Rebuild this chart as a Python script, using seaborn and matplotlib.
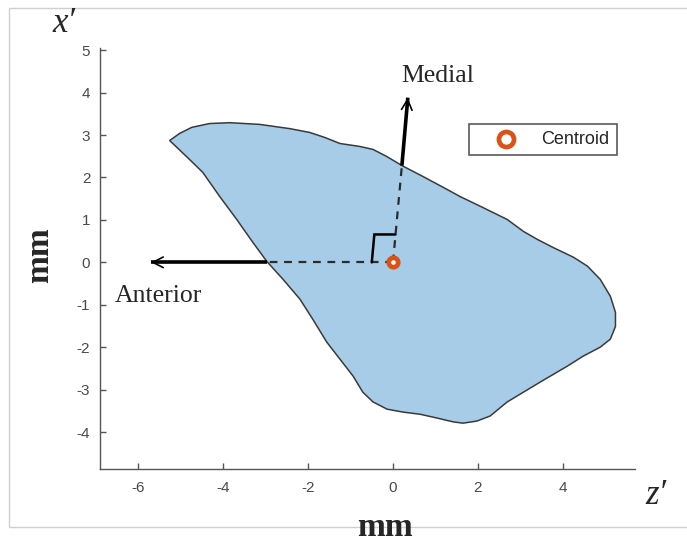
import matplotlib
matplotlib.use("Agg")
import matplotlib.pyplot as plt
from matplotlib.patches import Rectangle
import numpy as np
import seaborn as sns

# Cross-section outline in the (z', x') plane, mm, traced clockwise
outline_z = [-5.26, -5.02, -4.74, -4.32, -3.84, -3.14, -2.43, -1.96, -1.60, -1.25,
             -0.78, -0.47, -0.14, 0.21, 0.71, 1.27, 1.58, 2.12, 2.69, 3.07,
             3.40, 3.77, 4.25, 4.58, 4.88, 5.12, 5.24, 5.24, 5.12, 4.88,
             4.48, 4.10, 3.47, 2.69, 2.29, 1.98, 1.65, 1.42, 1.04, 0.64,
             0.24, -0.14, -0.47, -0.71, -0.94, -1.25, -1.56, -1.89, -2.19, -2.59,
             -2.97, -3.30, -3.68, -4.08, -4.48, -4.86]
outline_x = [2.87, 3.04, 3.18, 3.27, 3.29, 3.25, 3.15, 3.06, 2.94, 2.80,
             2.73, 2.66, 2.49, 2.28, 2.02, 1.72, 1.55, 1.29, 1.01, 0.73,
             0.54, 0.35, 0.12, -0.09, -0.40, -0.80, -1.18, -1.51, -1.81, -2.00,
             -2.21, -2.45, -2.82, -3.29, -3.62, -3.74, -3.79, -3.76, -3.67, -3.58,
             -3.53, -3.46, -3.29, -3.06, -2.68, -2.28, -1.88, -1.34, -0.87, -0.40,
             0.02, 0.47, 1.01, 1.55, 2.12, 2.49]

centroid_z = [0.0]
centroid_x = [0.0]

# Anatomical axes through the centroid: where each meets the outline, and arrow tips
anterior_edge = (-2.97, 0.0)
anterior_tip = (-5.70, 0.0)
medial_edge = (0.21, 2.28)
medial_tip = (0.35, 3.88)
right_angle = 0.64  # size of the right-angle marker, mm

x_ticks = [-6, -4, -2, 0, 2, 4]
y_ticks = [-4, -3, -2, -1, 0, 1, 2, 3, 4, 5]

fill_color = "#a7cce8"
edge_color = "#3a3a3a"
centroid_color = "#d95319"

sns.set_style("ticks")
plt.rcParams["font.family"] = ["Liberation Sans", "DejaVu Sans"]

W, H = 687, 548
fig = plt.figure(figsize=(W / 100, H / 100), dpi=100)
ax = fig.add_axes([100 / W, 1 - 469 / H, 535 / W, 421 / H])

ax.fill(outline_z, outline_x, facecolor=fill_color, edgecolor=edge_color,
        linewidth=1.1, zorder=1)

# dashed guide lines from the centroid to the outline
ax.plot([centroid_z[0], anterior_edge[0]], [centroid_x[0], anterior_edge[1]],
        ls=(0, (3.5, 3)), color="#2b2b2b", lw=1.6, zorder=2)
ax.plot([centroid_z[0], medial_edge[0]], [centroid_x[0], medial_edge[1]],
        ls=(0, (3.5, 3)), color="#2b2b2b", lw=1.6, zorder=2)


def direction_arrow(start, tip):
    """Thick shaft from the outline to the tip, finished with a thin open head."""
    start = np.asarray(start)
    tip = np.asarray(tip)
    ax.plot([start[0], tip[0]], [start[1], tip[1]], color="black", lw=2.6,
            solid_capstyle="butt", zorder=3)
    back = tip + (start - tip) / np.hypot(*(start - tip)) * 0.4
    ax.annotate("", xy=tuple(tip), xytext=tuple(back), zorder=3,
                arrowprops=dict(arrowstyle="->,head_length=0.75,head_width=0.38",
                                color="black", lw=1.2, shrinkA=0, shrinkB=0))


direction_arrow(anterior_edge, anterior_tip)
direction_arrow(medial_edge, medial_tip)

# right-angle marker at the centroid
mdir = np.array(medial_edge) / np.hypot(*medial_edge)
p0 = np.array([centroid_z[0] - right_angle * 0.78, centroid_x[0]])
p1 = p0 + mdir * right_angle * 1.03
p2 = np.array([centroid_z[0], centroid_x[0]]) + mdir * right_angle * 1.03
ax.plot([p0[0], p1[0], p2[0]], [p0[1], p1[1], p2[1]], color="black", lw=1.8,
        solid_joinstyle="miter", zorder=3)

sns.scatterplot(x=centroid_z, y=centroid_x, ax=ax, s=46, color="white",
                edgecolor=centroid_color, linewidth=3.4, label="Centroid", zorder=4)

ax.text(1.06, 4.38, "Medial", family="Liberation Serif", fontsize=18.5,
        ha="center", va="center")
ax.text(-5.52, -0.80, "Anterior", family="Liberation Serif", fontsize=18.5,
        ha="center", va="center")

ax.set_xlim(-6.9, 5.7)
ax.set_ylim(-4.87, 5.05)
ax.set_xticks(x_ticks)
ax.set_yticks(y_ticks)
ax.set_xticklabels([str(t) for t in x_ticks])
ax.set_yticklabels([str(t) for t in y_ticks])
ax.tick_params(direction="in", length=4, width=1, color="#555555",
               labelcolor="#4a4a4a", labelsize=11)
ax.tick_params(axis="x", pad=9)
ax.tick_params(axis="y", pad=7)
for side in ("top", "right"):
    ax.spines[side].set_visible(False)
for side in ("left", "bottom"):
    ax.spines[side].set_color("#555555")
    ax.spines[side].set_linewidth(1.0)
ax.set_xlabel("")
ax.set_ylabel("")
ax.set_facecolor("white")

leg = ax.legend(loc="upper left", bbox_to_anchor=(469 / W, 1 - 124 / H),
                bbox_transform=fig.transFigure, borderaxespad=0, fontsize=13,
                frameon=True, fancybox=False, framealpha=1, markerscale=1.6,
                handlelength=3.3, handletextpad=0.3, borderpad=0.4)
leg.get_frame().set_edgecolor("#5a5a5a")
leg.get_frame().set_linewidth(1.2)

# axis titles placed around the plotting area
fig.text(64 / W, 1 - 24 / H, "x\u2032", family="Liberation Serif", style="italic",
         fontsize=25, ha="center", va="center")
fig.text(656 / W, 1 - 496 / H, "z\u2032", family="Liberation Serif", style="italic",
         fontsize=25, ha="center", va="center")
fig.text(40 / W, 1 - 255 / H, "mm", family="Liberation Serif", weight="bold",
         fontsize=24, rotation=90, ha="center", va="center")
fig.text(385 / W, 1 - 528 / H, "mm", family="Liberation Serif", weight="bold",
         fontsize=24, ha="center", va="center")

# thin outer frame
fig.patches.append(Rectangle((9 / W, 1 - 527 / H), 700 / W, 519 / H,
                             transform=fig.transFigure, fill=False,
                             edgecolor="#cfcfcf", linewidth=1.0))

fig.savefig("out.png", dpi=100, facecolor="white")
